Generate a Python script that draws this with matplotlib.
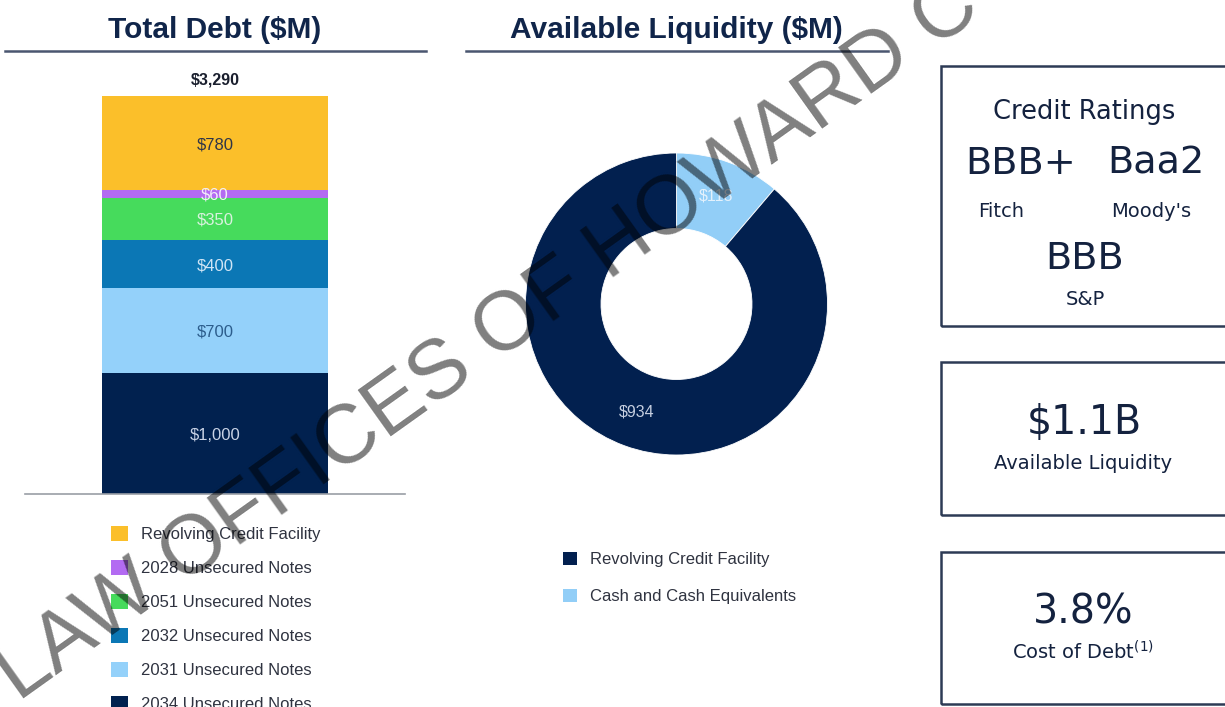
import matplotlib
matplotlib.use("Agg")
import matplotlib.pyplot as plt
from matplotlib.lines import Line2D
from matplotlib.patches import Rectangle, Patch

# ---------------- data ----------------
debt_categories = ["2034 Unsecured Notes", "2031 Unsecured Notes", "2032 Unsecured Notes",
                   "2051 Unsecured Notes", "2028 Unsecured Notes", "Revolving Credit Facility"]
debt_values = [1000, 700, 400, 350, 60, 780]
debt_colors = ["#01214F", "#94D1FA", "#0B77B5", "#46DB5C", "#B36BF2", "#FBBF2A"]
debt_label_colors = ["#c9d3e6", "#2c5d8c", "#cfe5f5", "#d8f2de", "#f3ecfa", "#2e3548"]
debt_total_label = "$3,290"

liq_categories = ["Revolving Credit Facility", "Cash and Cash Equivalents"]
liq_values = [934, 118]
liq_colors = ["#02204F", "#92CEF7"]
liq_label_colors = ["#c5cee0", "#e3f1fc"]

W, H = 1225, 707
fig = plt.figure(figsize=(W / 100, H / 100), dpi=100)
fig.patch.set_facecolor("white")

def fx(px):
    return px / W

def fy(py):
    return 1 - py / H

NAVY_T = "#10254a"
LINE_C = "#4a5670"
SANS = ["Liberation Sans", "DejaVu Sans"]
WIDE = ["DejaVu Sans"]

# ---------------- titles ----------------
fig.text(fx(215), fy(38), "Total Debt ($M)", ha="center", va="baseline",
         fontsize=21.5, fontweight="bold", color=NAVY_T, family=SANS)
fig.text(fx(676), fy(38), "Available Liquidity ($M)", ha="center", va="baseline",
         fontsize=21.5, fontweight="bold", color=NAVY_T, family=SANS)
fig.add_artist(Line2D([fx(5), fx(426)], [fy(51), fy(51)], color=LINE_C, lw=1.8))
fig.add_artist(Line2D([fx(466), fx(888)], [fy(51), fy(51)], color=LINE_C, lw=1.8))

# ---------------- stacked bar ----------------
ax = fig.add_axes([fx(25), fy(494), fx(405) - fx(25), fy(96) - fy(494)])
ax.set_xlim(-1, 1)
ax.set_ylim(0, sum(debt_values))
bottom = 0
for cat, val, col, lc in zip(debt_categories, debt_values, debt_colors, debt_label_colors):
    ax.bar(0, val, width=1.19, bottom=bottom, color=col, label=cat, edgecolor="none")
    ax.text(0, bottom + val / 2, f"${val:,}", ha="center", va="center_baseline",
            fontsize=12, color=lc, family=SANS)
    bottom += val
ax.annotate(debt_total_label, xy=(0, bottom), xytext=(0, 8.5), textcoords="offset points",
            ha="center", va="baseline", fontsize=11.5, fontweight="bold", color="#1a1f2e",
            family=SANS, annotation_clip=False)
for s in ["top", "left", "right"]:
    ax.spines[s].set_visible(False)
ax.spines["bottom"].set_color("#9a9ea6")
ax.spines["bottom"].set_linewidth(1.2)
ax.set_xticks([])
ax.set_yticks([])
ax.patch.set_alpha(0)

handles, labels = ax.get_legend_handles_labels()
fig.legend(handles[::-1], labels[::-1], loc="upper left",
           bbox_to_anchor=(fx(111), fy(526)), frameon=False,
           prop={"family": SANS, "size": 12}, labelcolor="#2f3340",
           handlelength=1.0, handleheight=1.0, handletextpad=0.8,
           labelspacing=1.07, borderpad=0, borderaxespad=0)

# ---------------- donut ----------------
R_px = 151
box = 170
axd = fig.add_axes([fx(676.5 - box), fy(304 + box), 2 * box / W, 2 * box / H])
axd.axis("off")
total_liq = sum(liq_values)
wedges, _, autotexts = axd.pie(liq_values[::-1], colors=liq_colors[::-1], startangle=90,
                               counterclock=False, radius=1,
                               wedgeprops=dict(width=0.5, edgecolor="white", linewidth=0.6),
                               autopct=lambda p: f"${p * total_liq / 100:,.0f}",
                               pctdistance=0.76, textprops=dict(fontsize=11.5, family=SANS))
for t, c in zip(autotexts, liq_label_colors[::-1]):
    t.set_color(c)
axd.set_aspect("equal")
axd.set_xlim(-box / R_px, box / R_px)
axd.set_ylim(-box / R_px, box / R_px)

leg_handles = [Patch(facecolor=c, edgecolor="none") for c in liq_colors]
fig.legend(leg_handles, liq_categories, loc="upper left",
           bbox_to_anchor=(fx(563), fy(552)), frameon=False,
           prop={"family": SANS, "size": 12}, labelcolor="#2f3340",
           handlelength=0.85, handleheight=0.85, handletextpad=0.75,
           labelspacing=1.3, borderpad=0, borderaxespad=0)

# ---------------- right boxes ----------------
BOX_C = "#2d3b55"
for top, bot in [(66, 326), (362, 515), (552, 704)]:
    fig.add_artist(Rectangle((fx(941), fy(bot)), fx(1240) - fx(941), fy(top) - fy(bot),
                             fill=False, edgecolor=BOX_C, linewidth=1.8))

TXT = "#14223f"
def rt(x, y, s, size):
    fig.text(fx(x), fy(y), s, ha="center", va="baseline", fontsize=size,
             color=TXT, family=WIDE)

rt(1084, 119, "Credit Ratings", 18.5)
rt(1021, 174, "BBB+", 27.5)
rt(1156, 174, "Baa2", 27.5)
rt(1001, 217, "Fitch", 14)
rt(1151, 217, "Moody's", 14)
rt(1085, 269, "BBB", 27.5)
rt(1085, 305, "S&P", 14)
rt(1084, 434, "$1.1B", 28.5)
rt(1083, 469, "Available Liquidity", 14)
rt(1083, 623, "3.8%", 28.5)
rt(1083, 660, r"Cost of Debt$^{\mathregular{(1)}}$", 14)

# ---------------- watermark ----------------
fig.text(fx(18), fy(702), "LAW OFFICES OF HOWARD C", rotation=35.5, rotation_mode="anchor",
         ha="left", va="baseline", fontsize=60, color="black", alpha=0.5,
         family=SANS, zorder=10)

fig.savefig("out.png", dpi=100)
